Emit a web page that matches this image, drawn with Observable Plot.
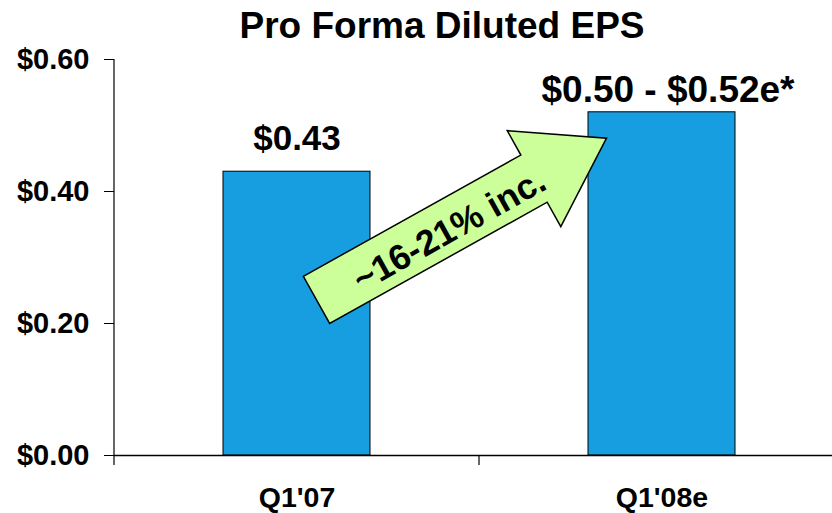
<!DOCTYPE html>
<html>
<head>
<meta charset="utf-8">
<script src="https://cdn.jsdelivr.net/npm/d3@7"></script>
<script src="https://cdn.jsdelivr.net/npm/@observablehq/plot@0.6"></script>
<style>
  html, body { margin: 0; padding: 0; background: #ffffff; }
  #chart { width: 832px; height: 513px; }
</style>
</head>
<body>
<div id="chart"></div>
<script>
// ---- data ----
const title = "Pro Forma Diluted EPS";
const categories = ["Q1'07", "Q1'08e"];
const epsValues = [0.43, 0.52];
const barLabels = ["$0.43", "$0.50 - $0.52e*"];
const yTicks = [0, 0.2, 0.4, 0.6];
const yTickLabels = ["$0.00", "$0.20", "$0.40", "$0.60"];
const arrowLabel = "~16-21% inc.";
const arrowTailValue = 0.235;  // y value at arrow tail
const arrowTipValue = 0.48;    // y value at arrow tip

const rows = categories.map((c, i) => ({cat: c, eps: epsValues[i], label: barLabels[i]}));

const FONT = "'Liberation Sans', Arial, Helvetica, sans-serif";

function bandwidthOf(s) {
  if (typeof s.bandwidth === "function") return s.bandwidth();
  return s.bandwidth || 0;
}

// axis lines + boundary ticks drawn through the scales
function axisLines(index, scales) {
  const sx = scales.x, sy = scales.y;
  const g = d3.create("svg:g").attr("stroke", "black").attr("fill", "none");
  const xL = sx(categories[0]);
  g.append("line").attr("x1", xL).attr("x2", xL)
    .attr("y1", sy(yTicks[yTicks.length - 1])).attr("y2", sy(0) + 10).attr("stroke-width", 1.2);
  for (let i = 1; i < categories.length; i++) {
    const xb = sx(categories[i]);
    g.append("line").attr("x1", xb).attr("x2", xb)
      .attr("y1", sy(0)).attr("y2", sy(0) + 10).attr("stroke-width", 1.2);
  }
  return g.node();
}

// block arrow between the bars, placed through the scales
function blockArrow(index, scales) {
  const sx = scales.x, sy = scales.y;
  const bw = bandwidthOf(sx);
  const x0 = sx(categories[0]) + bw / 2 + 20, y0 = sy(arrowTailValue);
  const x1 = sx(categories[1]) + bw / 2 - 55, y1 = sy(arrowTipValue);
  const L = Math.hypot(x1 - x0, y1 - y0);
  const ang = Math.atan2(y1 - y0, x1 - x0) * 180 / Math.PI;
  const hw = 27, hh = 55, hl = 83;
  const pts = [[0, -hw], [L - hl, -hw], [L - hl, -hh], [L, 0], [L - hl, hh], [L - hl, hw], [0, hw]];
  const g = d3.create("svg:g").attr("transform", `translate(${x0},${y0}) rotate(${ang})`);
  g.append("polygon")
    .attr("points", pts.map(p => p.join(",")).join(" "))
    .attr("fill", "#ccff99").attr("stroke", "black").attr("stroke-width", 1.5)
    .attr("stroke-linejoin", "miter");
  g.append("text")
    .attr("x", 150).attr("y", 3).attr("dy", "0.35em")
    .attr("text-anchor", "middle")
    .attr("font-family", FONT).attr("font-weight", "bold").attr("font-size", 35.5)
    .attr("fill", "black")
    .text(arrowLabel);
  return g.node();
}

const chart = Plot.plot({
  width: 832,
  height: 513,
  marginTop: 59,
  marginBottom: 58,
  marginLeft: 114,
  marginRight: 0,
  style: {fontFamily: FONT, fontWeight: "bold", color: "black", background: "white", overflow: "visible"},
  x: {domain: categories, range: [114, 844], padding: 0, label: null},
  y: {domain: [0, 0.6], label: null},
  marks: [
    Plot.barY(rows, {x: "cat", y: "eps", fill: "#169ee0", stroke: "black", strokeWidth: 1, insetLeft: 109, insetRight: 109}),
    Plot.ruleY([0], {stroke: "black", strokeWidth: 1.5}),
    axisLines,
    Plot.axisY({ticks: yTicks, tickFormat: d => yTickLabels[yTicks.indexOf(d)], tickSize: 10, tickPadding: 15,
      fontSize: 29, fontWeight: "bold", label: null, stroke: "black", strokeOpacity: 1}),
    Plot.axisX({tickSize: 0, tickPadding: 31, fontSize: 28.5, fontWeight: "bold", label: null}),
    Plot.text([rows[0]], {x: "cat", y: "eps", text: "label", dy: -22, lineAnchor: "bottom", fontSize: 35, fontWeight: "bold"}),
    Plot.text([rows[1]], {x: "cat", y: "eps", text: "label", dy: -10, dx: 6, lineAnchor: "bottom", fontSize: 37, fontWeight: "bold"}),
    blockArrow,
    Plot.text([title], {text: d => d, frameAnchor: "top", dx: -31.5, dy: -22, lineAnchor: "bottom", fontSize: 37, fontWeight: "bold"})
  ]
});

document.getElementById("chart").appendChild(chart);
</script>
</body>
</html>
